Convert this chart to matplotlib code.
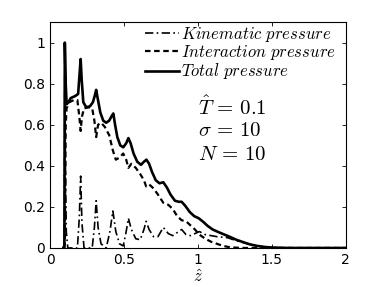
import numpy as np
import matplotlib.pyplot as plt
from matplotlib.ticker import FormatStrFormatter

# Data (z-hat positions and pressures), one grid per curve
z_kin = [0.090, 0.097, 0.100, 0.104, 0.110, 0.120, 0.185, 0.198, 0.207, 0.216,
         0.230, 0.285, 0.300, 0.312, 0.325, 0.345, 0.380, 0.405, 0.425, 0.445,
         0.470, 0.495, 0.515, 0.530, 0.550, 0.580, 0.610, 0.635, 0.650, 0.670,
         0.700, 0.730, 0.766, 0.800, 0.830, 0.860, 0.890, 0.920, 0.950, 0.980,
         1.010, 1.050, 1.090, 1.130, 1.200, 1.270, 1.330, 1.400, 1.460, 1.550,
         1.650, 2.000]
kinematic = [0.0, 0.0, 0.98, 0.40, 0.08, 0.0, 0.0, 0.15, 0.35, 0.12,
             0.0, 0.0, 0.10, 0.23, 0.10, 0.02, 0.0, 0.08, 0.18, 0.08,
             0.02, 0.01, 0.08, 0.145, 0.09, 0.045, 0.04, 0.09, 0.13, 0.09,
             0.055, 0.055, 0.10, 0.07, 0.06, 0.075, 0.09, 0.065, 0.06, 0.07,
             0.08, 0.065, 0.06, 0.055, 0.05, 0.033, 0.022, 0.010, 0.004, 0.001,
             0.0, 0.0]

z_int = [0.090, 0.100, 0.106, 0.112, 0.130, 0.160, 0.185, 0.198, 0.207, 0.216,
         0.230, 0.260, 0.285, 0.300, 0.312, 0.325, 0.345, 0.370, 0.400, 0.425,
         0.445, 0.470, 0.495, 0.515, 0.530, 0.550, 0.580, 0.610, 0.635, 0.650,
         0.670, 0.700, 0.730, 0.766, 0.800, 0.830, 0.860, 0.890, 0.920, 0.950,
         0.980, 1.010, 1.050, 1.090, 1.130, 1.170, 1.220, 1.300, 2.000]
interaction = [0.0, 0.02, 0.60, 0.68, 0.71, 0.72, 0.72, 0.64, 0.57, 0.64,
               0.68, 0.685, 0.68, 0.62, 0.54, 0.60, 0.61, 0.59, 0.55, 0.475,
               0.43, 0.44, 0.46, 0.43, 0.39, 0.41, 0.39, 0.36, 0.33, 0.30,
               0.31, 0.29, 0.26, 0.22, 0.21, 0.19, 0.155, 0.135, 0.13, 0.11,
               0.09, 0.065, 0.045, 0.03, 0.02, 0.01, 0.003, 0.0, 0.0]

z_tot = [0.090, 0.097, 0.100, 0.106, 0.112, 0.125, 0.140, 0.170, 0.190, 0.200,
         0.207, 0.214, 0.225, 0.245, 0.270, 0.290, 0.302, 0.312, 0.322, 0.340,
         0.360, 0.380, 0.400, 0.415, 0.428, 0.440, 0.455, 0.475, 0.495, 0.515,
         0.530, 0.545, 0.565, 0.590, 0.615, 0.635, 0.652, 0.670, 0.690, 0.715,
         0.740, 0.766, 0.790, 0.815, 0.845, 0.870, 0.890, 0.915, 0.945, 0.975,
         1.005, 1.035, 1.065, 1.100, 1.140, 1.180, 1.220, 1.260, 1.300, 1.350,
         1.400, 1.450, 1.500, 1.580, 1.650, 2.000]
total = [0.0, 0.0, 1.00, 0.80, 0.70, 0.71, 0.73, 0.74, 0.75, 0.85,
         0.92, 0.82, 0.71, 0.685, 0.69, 0.71, 0.74, 0.77, 0.73, 0.66,
         0.62, 0.61, 0.62, 0.64, 0.655, 0.60, 0.54, 0.50, 0.49, 0.51,
         0.535, 0.51, 0.46, 0.42, 0.405, 0.42, 0.43, 0.41, 0.37, 0.33,
         0.315, 0.32, 0.295, 0.26, 0.23, 0.225, 0.225, 0.205, 0.175, 0.155,
         0.145, 0.128, 0.108, 0.09, 0.077, 0.065, 0.053, 0.04, 0.03, 0.018,
         0.010, 0.005, 0.002, 0.0005, 0.0, 0.0]

labels = ['$Kinematic\\ pressure$', '$Interaction\\ pressure$', '$Total\\ pressure$']
params = ['$\\hat{T}\\,=\\,0.1$', '$\\sigma\\,=\\,10$', '$N\\,=\\,10$']

plt.rcParams['mathtext.fontset'] = 'cm'
plt.rcParams['font.family'] = 'DejaVu Sans'

fig = plt.figure(figsize=(3.82, 2.87), dpi=100)
ax = fig.add_axes([0.131, 0.136, 0.774, 0.787])

ax.plot(z_kin, kinematic, color='k', lw=1.2, linestyle=(0, (5, 2, 1, 2)), label=labels[0])
ax.plot(z_int, interaction, color='k', lw=1.6, linestyle=(0, (2.5, 1.6)), label=labels[1])
ax.plot(z_tot, total, color='k', lw=1.9, linestyle='-', label=labels[2])

ax.set_xlim(0, 2)
ax.set_ylim(0, 1.1)
ax.set_xticks([0, 0.5, 1, 1.5, 2])
ax.set_yticks([0, 0.2, 0.4, 0.6, 0.8, 1])
ax.xaxis.set_major_formatter(FormatStrFormatter('%g'))
ax.yaxis.set_major_formatter(FormatStrFormatter('%g'))
ax.tick_params(direction='in', top=True, right=True, labelsize=10, length=3, width=0.6)
for s in ax.spines.values():
    s.set_linewidth(0.8)

ax.set_xlabel('$\\hat{z}$', fontsize=12, labelpad=1)

leg = ax.legend(loc='upper right', frameon=False, fontsize=12, handlelength=2.0,
                handletextpad=0.15, labelspacing=-0.05, borderpad=0, borderaxespad=0,
                bbox_to_anchor=(336 / 382, 1 - 25 / 287), bbox_transform=fig.transFigure)

# Parameter annotation, one line each (baselines in pixels from top)
for txt, ypix in zip(params, [115, 136, 160]):
    fig.text(198 / 382, 1 - ypix / 287, txt, fontsize=15, va='baseline', ha='left')

fig.savefig('out.png', dpi=100, facecolor='white')
